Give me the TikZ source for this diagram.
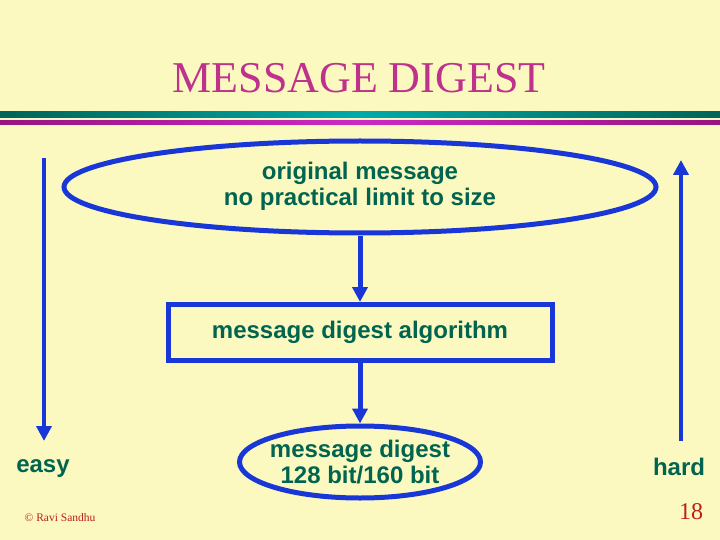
\documentclass[tikz,border=0pt]{standalone}
\usepackage{fontspec}
\setmainfont{Liberation Serif}
\newfontfamily\arial{Liberation Sans}
\usetikzlibrary{arrows.meta,shapes.geometric}
\definecolor{paper}{RGB}{251,249,192}
\definecolor{titlepink}{RGB}{190,50,140}
\definecolor{textgreen}{RGB}{0,100,80}
\definecolor{lineblue}{RGB}{25,55,215}
\definecolor{footred}{RGB}{190,30,30}
\definecolor{tealdark}{RGB}{0,100,90}
\definecolor{teallight}{RGB}{0,170,170}
\definecolor{magdark}{RGB}{150,20,130}
\definecolor{maglight}{RGB}{205,40,195}
\tikzset{
  flow/.style={lineblue, line width=5pt, -{Triangle[length=15pt,width=15pt]}},
  bodytext/.style={text=textgreen, inner sep=0pt, align=center,
    font=\arial\bfseries\fontsize{24}{26}\selectfont},
  blueline/.style={draw=lineblue, line width=5pt}
}
\begin{document}
\begin{tikzpicture}[x=1pt,y=-1pt]
    \fill [paper] (0,0) rectangle (720,540);
    \useasboundingbox (0,0) rectangle (720,540);
    \node [titlepink, inner sep=0pt, font=\fontsize{44}{48}\selectfont] (title) at (359,78) {MESSAGE DIGEST};
    \shade [left color=tealdark, right color=tealdark, middle color=teallight] (0,112) rectangle (720,118);
    \shade [left color=magdark, right color=magdark, middle color=maglight] (0,121) rectangle (720,125);
    \node [blueline, ellipse, inner sep=0pt, minimum width=592pt, minimum height=92pt] (orig) at (360,187) {};
    \node [bodytext] (origtext) at (360,186) {original message\\no practical limit to size};
    \node [blueline, rectangle, inner sep=0pt, minimum width=384pt, minimum height=56pt] (algo) at (360,332.5) {};
    \node [bodytext] (algotext) at (360,332) {message digest algorithm};
    \node [blueline, ellipse, inner sep=0pt, minimum width=241pt, minimum height=72pt] (digest) at (360,462) {};
    \node [bodytext] (digesttext) at (360,462) {message digest\\128 bit/160 bit};
    \draw [flow] (orig) -- (algo);
    \draw [flow] (algo) -- (digest);
    \coordinate (easytop) at (44,158);
    \coordinate (easytip) at (44,441);
    \draw [flow, line width=4pt] (easytop) -- (easytip);
    \coordinate (hardfoot) at (681,441);
    \coordinate (hardtip) at (681,160);
    \draw [flow, line width=4pt] (hardfoot) -- (hardtip);
    \node [bodytext] (easy) at (43,469) {easy};
    \node [bodytext] (hard) at (679,467) {hard};
    \node [footred, inner sep=0pt, font=\fontsize{11.5}{13}\selectfont] (author) at (60,518) {\textcopyright\ Ravi Sandhu};
    \node [footred, inner sep=0pt, font=\fontsize{24}{26}\selectfont] (page) at (691,512) {18};
\end{tikzpicture}
\end{document}
